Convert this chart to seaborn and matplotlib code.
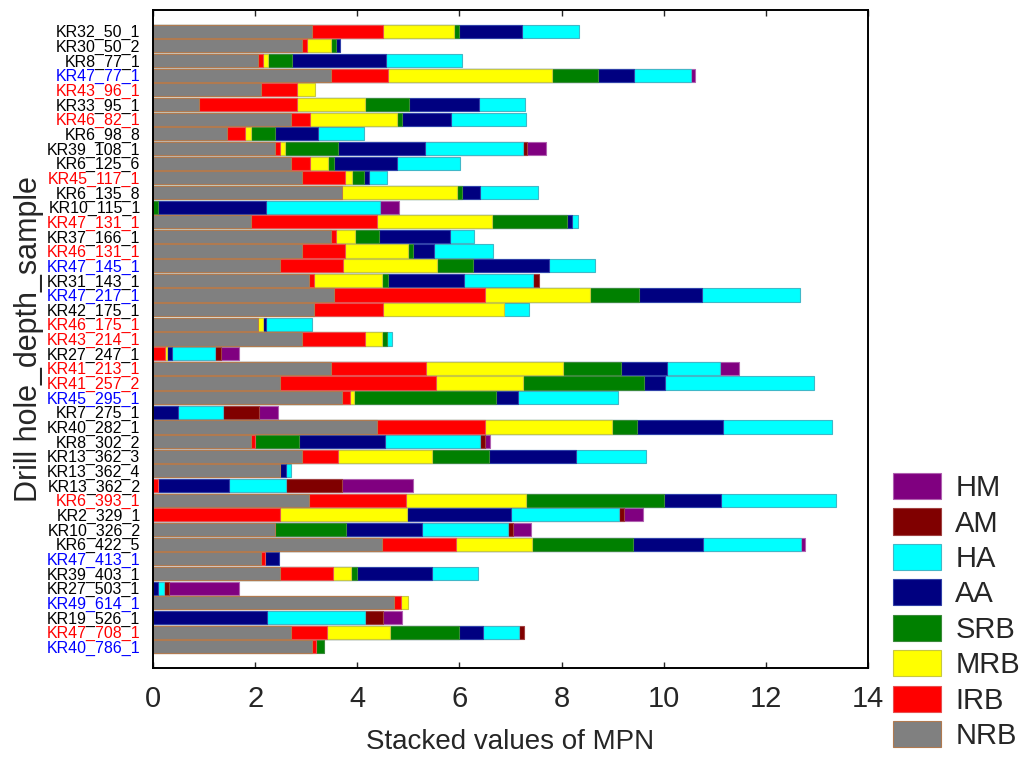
import numpy as np
import pandas as pd
import matplotlib
matplotlib.use("Agg")
import matplotlib.pyplot as plt
import matplotlib.patches as mpatches
import seaborn as sns

# Samples, top to bottom
samples = [
    "KR32_50_1", "KR30_50_2", "KR8_77_1", "KR47_77_1", "KR43_96_1", "KR33_95_1",
    "KR46_82_1", "KR6_98_8", "KR39_108_1", "KR6_125_6", "KR45_117_1", "KR6_135_8",
    "KR10_115_1", "KR47_131_1", "KR37_166_1", "KR46_131_1", "KR47_145_1", "KR31_143_1",
    "KR47_217_1", "KR42_175_1", "KR46_175_1", "KR43_214_1", "KR27_247_1", "KR41_213_1",
    "KR41_257_2", "KR45_295_1", "KR7_275_1", "KR40_282_1", "KR8_302_2", "KR13_362_3",
    "KR13_362_4", "KR13_362_2", "KR6_393_1", "KR2_329_1", "KR10_326_2", "KR6_422_5",
    "KR47_413_1", "KR39_403_1", "KR27_503_1", "KR49_614_1", "KR19_526_1", "KR47_708_1",
    "KR40_786_1",
]

# Label colour group of each sample
label_colors = [
    "k", "k", "k", "b", "r", "k", "r", "k", "k", "k", "r", "k",
    "k", "r", "k", "r", "b", "k", "b", "k", "r", "r", "k", "r",
    "r", "b", "k", "k", "k", "k", "k", "k", "r", "k", "k", "k",
    "b", "k", "k", "b", "k", "r", "b",
]

# MPN values per group
NRB = [3.11, 2.91, 2.05, 3.49, 2.11, 0.91, 2.70, 1.45, 2.39, 2.70, 2.91, 3.71,
       0.00, 1.91, 3.49, 2.91, 2.49, 3.05, 3.55, 3.15, 2.05, 2.91, 0.00, 3.49,
       2.49, 3.71, 0.00, 4.39, 1.91, 2.91, 2.49, 0.00, 3.05, 0.00, 2.39, 4.48,
       2.11, 2.49, 0.00, 4.72, 0.00, 2.70, 3.11]
IRB = [1.39, 0.10, 0.10, 1.12, 0.71, 1.90, 0.37, 0.36, 0.10, 0.37, 0.85, 0.00,
       0.00, 2.48, 0.09, 0.85, 1.23, 0.10, 2.96, 1.35, 0.00, 1.24, 0.23, 1.85,
       3.05, 0.15, 0.00, 2.12, 0.09, 0.71, 0.00, 0.09, 1.91, 2.49, 0.00, 1.46,
       0.09, 1.04, 0.00, 0.14, 0.00, 0.71, 0.09]
MRB = [1.39, 0.48, 0.10, 3.21, 0.36, 1.35, 1.70, 0.10, 0.09, 0.36, 0.14, 2.24,
       0.00, 2.24, 0.37, 1.23, 1.85, 1.34, 2.05, 2.38, 0.11, 0.34, 0.04, 2.69,
       1.70, 0.08, 0.00, 2.48, 0.00, 1.84, 0.00, 0.00, 2.34, 2.48, 0.00, 1.49,
       0.00, 0.35, 0.00, 0.14, 0.00, 1.23, 0.00]
SRB = [0.10, 0.09, 0.47, 0.90, 0.00, 0.85, 0.10, 0.48, 1.05, 0.11, 0.23, 0.11,
       0.09, 1.48, 0.48, 0.10, 0.69, 0.12, 0.96, 0.00, 0.00, 0.10, 0.00, 1.13,
       2.38, 2.78, 0.00, 0.48, 0.85, 1.12, 0.00, 0.00, 2.71, 0.00, 1.38, 1.96,
       0.00, 0.11, 0.00, 0.00, 0.00, 1.35, 0.15]
AA = [1.23, 0.09, 1.85, 0.70, 0.00, 1.38, 0.96, 0.85, 1.70, 1.24, 0.10, 0.35,
      2.12, 0.09, 1.38, 0.41, 1.49, 1.48, 1.23, 0.00, 0.05, 0.00, 0.10, 0.90,
      0.41, 0.43, 0.48, 1.70, 1.70, 1.71, 0.11, 1.39, 1.12, 2.04, 1.49, 1.37,
      0.26, 1.48, 0.09, 0.00, 2.24, 0.47, 0.00]
HA = [1.12, 0.00, 1.48, 1.11, 0.00, 0.90, 1.48, 0.90, 1.91, 1.24, 0.36, 1.12,
      2.24, 0.12, 0.48, 1.15, 0.90, 1.36, 1.91, 0.49, 0.91, 0.08, 0.85, 1.05,
      2.91, 1.96, 0.90, 2.13, 1.86, 1.37, 0.10, 1.12, 2.24, 2.12, 1.70, 1.92,
      0.00, 0.90, 0.12, 0.00, 1.91, 0.71, 0.00]
AM = [0.00, 0.00, 0.00, 0.00, 0.00, 0.00, 0.00, 0.00, 0.09, 0.00, 0.00, 0.00,
      0.00, 0.00, 0.00, 0.00, 0.00, 0.10, 0.00, 0.00, 0.00, 0.00, 0.11, 0.00,
      0.00, 0.00, 0.70, 0.00, 0.10, 0.00, 0.00, 1.11, 0.00, 0.10, 0.09, 0.00,
      0.00, 0.00, 0.10, 0.00, 0.35, 0.09, 0.00]
HM = [0.00, 0.00, 0.00, 0.08, 0.00, 0.00, 0.00, 0.00, 0.36, 0.00, 0.00, 0.00,
      0.37, 0.00, 0.00, 0.00, 0.00, 0.00, 0.00, 0.00, 0.00, 0.00, 0.36, 0.36,
      0.00, 0.00, 0.36, 0.00, 0.09, 0.00, 0.00, 1.39, 0.00, 0.36, 0.36, 0.09,
      0.00, 0.00, 1.38, 0.00, 0.37, 0.00, 0.00]

groups = ["NRB", "IRB", "MRB", "SRB", "AA", "HA", "AM", "HM"]
values = [NRB, IRB, MRB, SRB, AA, HA, AM, HM]
face = ["#808080", "#ff0000", "#ffff00", "#008000", "#000080", "#00ffff", "#800000", "#800080"]
edge = ["#b07a50", "#e85050", "#c8c840", "#3a8a3a", "#3040a8", "#40b8c8", "#a04040", "#b060b0"]

sns.set_style("ticks")
plt.rcParams["font.family"] = ["Liberation Sans", "DejaVu Sans"]

df = pd.DataFrame(dict(zip(groups, values)))
df.insert(0, "sample", samples)

# Running totals, so each group's bar ends at the right end of its segment
cum = df[groups].cumsum(axis=1)
cum = cum.where(df[groups] > 0)  # no bar where a group is absent
cum["sample"] = samples

fig = plt.figure(figsize=(10.24, 7.58), dpi=100)
ax = fig.add_axes([153 / 1024, 1 - 668 / 758, (868 - 153) / 1024, (668 - 10) / 758])

# Draw from the outermost total inwards so earlier groups cover later ones
for g, fc, ec in reversed(list(zip(groups, face, edge))):
    sns.barplot(data=cum, x=g, y="sample", order=samples, orient="h",
                color=fc, saturation=1, width=0.9, errorbar=None,
                edgecolor=ec, linewidth=0.8, ax=ax)

ax.set_xlim(0, 14)
ax.set_ylim(len(samples) - 1 + 1.45, -1.45)
ax.set_xticks(np.arange(0, 15, 2))
ax.tick_params(axis="x", which="major", direction="in", top=True, bottom=True,
               length=4, width=1, labelsize=21, pad=12)
ax.tick_params(axis="y", which="major", length=0, labelsize=11.5, pad=9)
ax.set_yticks(np.arange(0, len(samples), 2), minor=True)
ax.tick_params(axis="y", which="minor", direction="in", left=True, right=True,
               length=4, width=1)

for lab, c in zip(ax.get_yticklabels(), label_colors):
    lab.set_color({"k": "black", "r": "#ff0000", "b": "#0000ff"}[c])

for s in ax.spines.values():
    s.set_visible(True)
    s.set_linewidth(1.4)
    s.set_color("black")

ax.set_xlabel("Stacked values of MPN", fontsize=20)
ax.set_ylabel("Drill hole_depth_sample", fontsize=22)
ax.xaxis.set_label_coords(0.5, -0.093)
ax.yaxis.set_label_coords(-0.152, 0.5)

handles = [mpatches.Patch(facecolor=fc, edgecolor=ec, linewidth=0.8, label=g)
           for g, fc, ec in zip(groups, face, edge)][::-1]
fig.legend(handles=handles, loc="upper left", bbox_to_anchor=(893 / 1024, 1 - 473 / 758),
           frameon=False, fontsize=21, handlelength=1.64, handleheight=1.0,
           labelspacing=0.22, handletextpad=0.5, borderpad=0, borderaxespad=0)

fig.savefig("out.png", dpi=100)
